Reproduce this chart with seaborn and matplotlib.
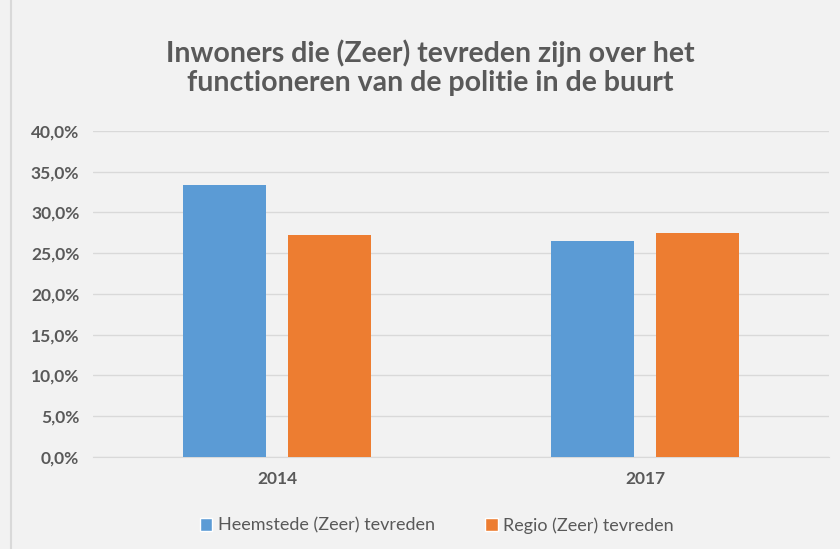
import matplotlib.pyplot as plt
import matplotlib.ticker as mticker
import seaborn as sns
import pandas as pd
from matplotlib.patches import Rectangle, Patch

sns.set_style("white")
plt.rcParams['font.family'] = ['Lato', 'DejaVu Sans']

years = ['2014', '2017']
series = ['Heemstede (Zeer) tevreden', 'Regio (Zeer) tevreden']
heemstede = [0.334, 0.265]
regio = [0.272, 0.275]
colors = ['#5B9BD5', '#ED7D31']

df = pd.DataFrame({
    'Jaar': years * 2,
    'Reeks': [series[0]] * 2 + [series[1]] * 2,
    'Waarde': heemstede + regio,
})

bg = '#F2F2F2'
txt = '#595959'

fig = plt.figure(figsize=(8.4, 5.49), dpi=100, facecolor=bg)
ax = fig.add_axes([0.111, 0.1676, 0.876, 0.5938])
ax.set_facecolor(bg)

sns.barplot(data=df, x='Jaar', y='Waarde', hue='Reeks', palette=colors,
            saturation=1, width=0.57, gap=0.21, linewidth=0,
            ax=ax, legend=False, zorder=3)

ax.set_ylim(0, 0.40)
ax.set_xlim(-0.5, 1.5)
ax.yaxis.set_major_locator(mticker.MultipleLocator(0.05))
ax.yaxis.set_major_formatter(mticker.FuncFormatter(lambda v, p: f"{v*100:.1f}%".replace('.', ',')))
ax.grid(axis='y', color='#D9D9D9', linewidth=1, zorder=0)
for s in ['top', 'right', 'left']:
    ax.spines[s].set_visible(False)
ax.spines['bottom'].set_color('#D9D9D9')
ax.set_xlabel('')
ax.set_ylabel('')
ax.tick_params(axis='both', length=0, colors=txt, labelsize=12.5, pad=10)
for lbl in ax.get_xticklabels() + ax.get_yticklabels():
    lbl.set_fontweight('bold')

fig.text(0.512, 0.877, 'Inwoners die (Zeer) tevreden zijn over het\nfunctioneren van de politie in de buurt',
         ha='center', va='center', fontsize=20.5, fontweight='bold', color=txt, linespacing=1.15)

handles = [Patch(facecolor=c, label=s) for c, s in zip(colors, series)]
fig.legend(handles=handles, loc='center', bbox_to_anchor=(0.52, 0.043), ncol=2,
           frameon=False, fontsize=13, labelcolor=txt, handlelength=0.7, handleheight=0.7,
           handletextpad=0.3, columnspacing=2.8)

fig.patches.append(Rectangle((0.013, -0.01), 1.0, 1.02, transform=fig.transFigure,
                             fill=False, edgecolor='#D9D9D9', linewidth=1.5))

fig.savefig('out.png', dpi=100, facecolor=bg)
